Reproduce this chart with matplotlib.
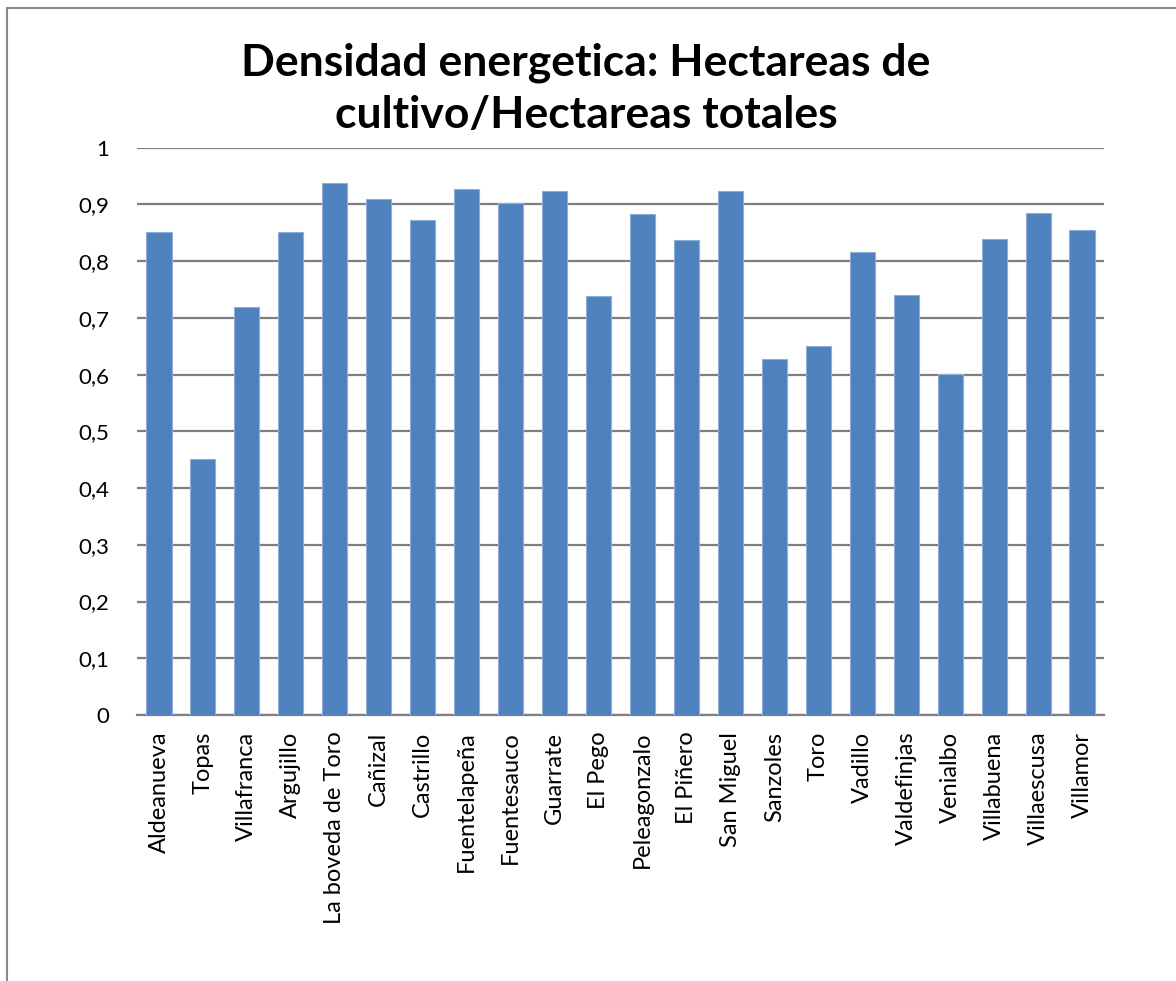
import matplotlib.pyplot as plt
from matplotlib.lines import Line2D

# Datos
municipios = ['Aldeanueva', 'Topas', 'Villafranca', 'Argujillo', 'La boveda de Toro',
              'Cañizal', 'Castrillo', 'Fuentelapeña', 'Fuentesauco', 'Guarrate',
              'El Pego', 'Peleagonzalo', 'El Piñero', 'San Miguel', 'Sanzoles',
              'Toro', 'Vadillo', 'Valdefinjas', 'Venialbo', 'Villabuena',
              'Villaescusa', 'Villamor']
densidad = [0.851, 0.451, 0.719, 0.851, 0.937, 0.910, 0.872, 0.927, 0.903, 0.923,
            0.739, 0.884, 0.837, 0.923, 0.628, 0.651, 0.817, 0.741, 0.601, 0.839,
            0.885, 0.855]
yticks = [0, 0.1, 0.2, 0.3, 0.4, 0.5, 0.6, 0.7, 0.8, 0.9, 1]
ytick_labels = ['0', '0,1', '0,2', '0,3', '0,4', '0,5', '0,6', '0,7', '0,8', '0,9', '1']

plt.rcParams['font.family'] = ['Lato', 'DejaVu Sans']

W, H = 1176, 981
fig = plt.figure(figsize=(W / 100, H / 100), dpi=100)
ax = fig.add_axes([137 / W, 1 - 715 / H, (1104 - 137) / W, (715 - 147.7) / H])

x = range(len(municipios))
ax.bar(x, densidad, width=0.57, color='#4F81BD', edgecolor='#8EAEDB', linewidth=0.8, zorder=3)

ax.set_xlim(-0.5, len(municipios) - 0.5)
ax.set_ylim(0, 1)
ax.set_yticks(yticks)
ax.set_yticklabels(ytick_labels, fontsize=16)
ax.set_xticks(list(x))
ax.set_xticklabels(municipios, rotation=90, fontsize=17)
ax.tick_params(axis='both', length=0)
ax.tick_params(axis='y', pad=20)
ax.tick_params(axis='x', pad=12)

ax.grid(axis='y', color='#7F7F7F', linewidth=1.6, zorder=0)
for s in ['left', 'right', 'top']:
    ax.spines[s].set_visible(False)
ax.spines['bottom'].set_color('#7F7F7F')
ax.spines['bottom'].set_linewidth(1.6)

fig.text(586 / W, 1 - 89 / H, 'Densidad energetica: Hectareas de\ncultivo/Hectareas totales',
         ha='center', va='center', fontsize=32, fontweight='bold', linespacing=1.35)

# borde del area del grafico
fig.add_artist(Line2D([7 / W, 7 / W], [0, 1 - 8 / H], color='#888888', linewidth=1.5,
                      transform=fig.transFigure))
fig.add_artist(Line2D([7 / W, 1], [1 - 8 / H, 1 - 8 / H], color='#888888', linewidth=1.5,
                      transform=fig.transFigure))

fig.savefig('out.png', dpi=100)
